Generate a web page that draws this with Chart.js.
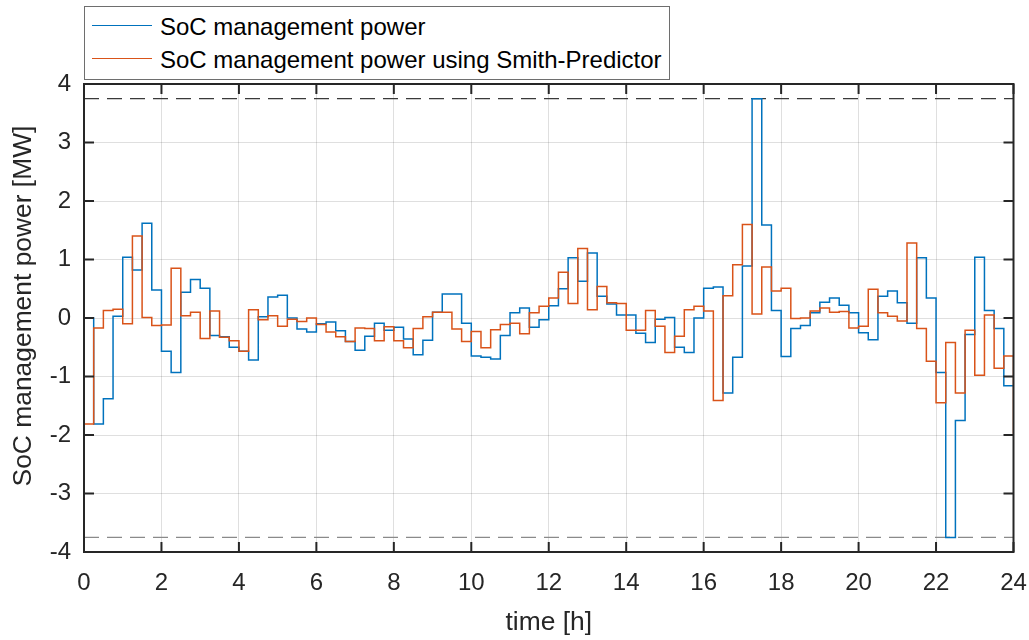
<!DOCTYPE html>
<html>
<head>
<meta charset="utf-8">
<script src="https://cdn.jsdelivr.net/npm/chart.js@4"></script>
<style>
  html, body { margin: 0; padding: 0; background: #fff; }
  #wrap { position: relative; width: 1029px; height: 640px; font-family: "Liberation Sans", Arial, sans-serif; }
  #chart { position: absolute; left: 0; top: 0; }
  .legend-box { position: absolute; left: 84px; top: 6px; width: 584px; height: 72px; border: 1px solid #6e6e6e; background: #fff; }
  .legend-line { position: absolute; left: 92px; width: 60px; height: 0; border-top: 1.5px solid; }
  .legend-text { position: absolute; left: 160px; font-size: 24px; line-height: 24px; color: #000; white-space: nowrap; }
</style>
</head>
<body>
<div id="wrap">
  <canvas id="chart" width="1029" height="640"></canvas>
  <div class="legend-box"></div>
  <div class="legend-line" style="top:25px; border-color:#0072BD"></div>
  <div class="legend-text" style="top:15px">SoC management power</div>
  <div class="legend-line" style="top:58px; border-color:#D95319"></div>
  <div class="legend-text" style="top:48px">SoC management power using Smith-Predictor</div>
</div>
<script>
// SoC-Leistung, Viertelstundenraster, Werte

const timeH = [
  0, 0.25, 0.5, 0.75, 1, 1.25, 1.5, 1.75, 2, 2.25, 2.5, 2.75,
  3, 3.25, 3.5, 3.75, 4, 4.25, 4.5, 4.75, 5, 5.25, 5.5, 5.75,
  6, 6.25, 6.5, 6.75, 7, 7.25, 7.5, 7.75, 8, 8.25, 8.5, 8.75,
  9, 9.25, 9.5, 9.75, 10, 10.25, 10.5, 10.75, 11, 11.25, 11.5, 11.75,
  12, 12.25, 12.5, 12.75, 13, 13.25, 13.5, 13.75, 14, 14.25, 14.5, 14.75,
  15, 15.25, 15.5, 15.75, 16, 16.25, 16.5, 16.75, 17, 17.25, 17.5, 17.75,
  18, 18.25, 18.5, 18.75, 19, 19.25, 19.5, 19.75, 20, 20.25, 20.5, 20.75,
  21, 21.25, 21.5, 21.75, 22, 22.25, 22.5, 22.75, 23, 23.25, 23.5, 23.75,
  24
];

const socPower = [
  0, -1.81, -1.38, 0.03, 1.04, 0.82, 1.62, 0.48, -0.57, -0.93, 0.44, 0.66,
  0.51, -0.30, -0.32, -0.50, -0.57, -0.72, 0.02, 0.36, 0.39, 0.0, -0.19, -0.24,
  -0.10, -0.07, -0.22, -0.40, -0.55, -0.31, -0.09, -0.21, -0.16, -0.36, -0.63, -0.38,
  0.10, 0.41, 0.41, -0.09, -0.65, -0.67, -0.70, -0.30, 0.09, 0.17, -0.16, -0.03,
  0.21, 0.50, 1.03, 0.63, 1.11, 0.37, 0.24, 0.05, 0.05, -0.26, -0.42, -0.02,
  0.01, -0.50, -0.59, 0.0, 0.51, 0.53, -1.28, -0.67, 0.89, 3.75, 1.59, 0.13,
  -0.66, -0.18, -0.13, 0.09, 0.27, 0.34, 0.22, 0.09, -0.25, -0.37, 0.37, 0.46,
  0.26, -0.09, 1.03, 0.34, -0.93, -3.75, -1.75, -0.28, 1.04, 0.13, -0.18, -1.16,
  -1.16
];

const socPowerSmith = [
  -1.81, -0.17, 0.13, 0.15, -0.10, 1.40, 0.01, -0.13, -0.12, 0.85, 0.04, 0.10,
  -0.35, 0.12, -0.33, -0.39, -0.57, 0.14, -0.03, 0.04, -0.14, -0.02, -0.06, 0.0,
  -0.11, -0.24, -0.32, -0.40, -0.17, -0.18, -0.39, -0.15, -0.39, -0.51, -0.18, 0.02,
  0.10, 0.10, -0.19, -0.40, -0.23, -0.51, -0.20, -0.11, -0.09, -0.27, 0.09, 0.20,
  0.34, 0.78, 0.25, 1.19, 0.14, 0.54, 0.26, 0.25, -0.21, -0.21, 0.13, -0.14,
  -0.59, -0.31, 0.14, 0.20, 0.12, -1.41, 0.38, 0.91, 1.60, 0.07, 0.87, 0.46,
  0.51, -0.01, 0.0, 0.12, 0.17, 0.10, 0.11, -0.17, -0.14, 0.49, 0.09, 0.03,
  -0.05, 1.28, -0.18, -0.74, -1.45, -0.42, -1.28, -0.21, -0.98, 0.05, -0.86, -0.65,
  -1.98
];

// Leistungsgrenze (gestrichelt)
const powerLimit = 3.75;
const xTicks = [0, 2, 4, 6, 8, 10, 12, 14, 16, 18, 20, 22, 24];
const yTicks = [-4, -3, -2, -1, 0, 1, 2, 3, 4];
const yTitle = 'SoC management power [MW]';

const FONT = '"Liberation Sans", Arial, sans-serif';
const AXIS_COLOR = '#262626';

const toXY = (vals) => vals.map((v, i) => ({ x: timeH[i], y: v }));

// Rahmen + nach innen zeigende Ticks (MATLAB-Stil), y-Titel selbst gezeichnet
const boxPlugin = {
  id: 'boxTicks',
  afterDraw(chart) {
    const { ctx, chartArea: a, scales: { x, y } } = chart;
    const len = 10;
    ctx.save();
    ctx.strokeStyle = AXIS_COLOR;
    ctx.lineWidth = 2;
    ctx.strokeRect(a.left, a.top, a.right - a.left, a.bottom - a.top);
    ctx.beginPath();
    xTicks.forEach(t => {
      const px = x.getPixelForValue(t);
      ctx.moveTo(px, a.bottom); ctx.lineTo(px, a.bottom - len);
      ctx.moveTo(px, a.top); ctx.lineTo(px, a.top + len);
    });
    yTicks.forEach(t => {
      const py = y.getPixelForValue(t);
      ctx.moveTo(a.left, py); ctx.lineTo(a.left + len, py);
      ctx.moveTo(a.right, py); ctx.lineTo(a.right - len, py);
    });
    ctx.stroke();

    ctx.translate(24, (a.top + a.bottom) / 2 - 12);
    ctx.rotate(-Math.PI / 2);
    ctx.fillStyle = AXIS_COLOR;
    ctx.font = `26.4px ${FONT}`;
    ctx.textAlign = 'center';
    ctx.textBaseline = 'middle';
    ctx.fillText(yTitle, 0, 0);
    ctx.restore();
  }
};

new Chart(document.getElementById('chart'), {
  type: 'line',
  data: {
    datasets: [
      {
        label: 'SoC management power using Smith-Predictor',
        data: toXY(socPowerSmith),
        borderColor: '#D95319', borderWidth: 1.5,
        stepped: 'before', pointRadius: 0, order: 0,
      },
      {
        label: 'SoC management power',
        data: toXY(socPower),
        borderColor: '#0072BD', borderWidth: 1.5,
        stepped: 'before', pointRadius: 0, order: 1,
      },
      {
        label: 'limit+',
        data: [{ x: timeH[0], y: powerLimit }, { x: timeH[timeH.length - 1], y: powerLimit }],
        borderColor: '#3a3a3a', borderWidth: 1.2, borderDash: [15, 8],
        pointRadius: 0, order: 2,
      },
      {
        label: 'limit-',
        data: [{ x: timeH[0], y: -powerLimit }, { x: timeH[timeH.length - 1], y: -powerLimit }],
        borderColor: '#8a8a8a', borderWidth: 1.2, borderDash: [15, 8],
        pointRadius: 0, order: 2,
      },
    ]
  },
  options: {
    responsive: false,
    animation: false,
    devicePixelRatio: 1,
    layout: { padding: { left: 0, top: 84, right: 15.5, bottom: 0 } },
    plugins: { legend: { display: false }, tooltip: { enabled: false } },
    scales: {
      x: {
        type: 'linear', min: 0, max: 24,
        afterBuildTicks: (s) => { s.ticks = xTicks.map(v => ({ value: v })); },
        afterFit: (s) => { s.height = 88; s.paddingLeft = 0; s.paddingRight = 0; },
        grid: { color: 'rgba(38,38,38,0.15)', lineWidth: 1, drawTicks: false },
        border: { display: false },
        ticks: { padding: 17, color: AXIS_COLOR, font: { family: FONT, size: 24 }, maxRotation: 0 },
        title: {
          display: true, text: 'time [h]', color: AXIS_COLOR,
          font: { family: FONT, size: 26.4 }, padding: { top: 0, bottom: 1 }
        }
      },
      y: {
        type: 'linear', min: -4, max: 4,
        afterBuildTicks: (s) => { s.ticks = yTicks.map(v => ({ value: v })); },
        afterFit: (s) => { s.width = 84; s.paddingTop = 0; s.paddingBottom = 0; },
        grid: { color: 'rgba(38,38,38,0.15)', lineWidth: 1, drawTicks: false },
        border: { display: false },
        ticks: { padding: 13, color: AXIS_COLOR, font: { family: FONT, size: 24 } },
        title: { display: false }
      }
    }
  },
  plugins: [boxPlugin]
});
</script>
</body>
</html>
